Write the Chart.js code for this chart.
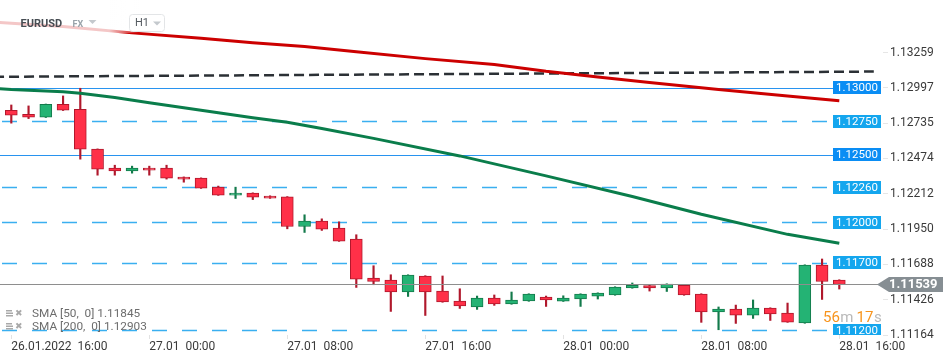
<!DOCTYPE html>
<html><head><meta charset="utf-8">
<script src="https://cdn.jsdelivr.net/npm/chart.js@4.4.1/dist/chart.umd.min.js"></script>
<style>html,body{margin:0;padding:0;background:#fff;overflow:hidden}canvas{display:block}</style>
</head><body>
<canvas id="c" width="950" height="361"></canvas>
<script>
// ---- data ----
const symbol = 'EURUSD', market = 'FX', interval = 'H1';
const xTickIdx = [0, 8, 16, 24, 32, 40, 48];
const xTickLabels = ['26.01.2022  16:00', '27.01  00:00', '27.01  08:00', '27.01  16:00', '28.01  00:00', '28.01  08:00', '28.01  16:00'];
const yTicks = [1.13259, 1.12997, 1.12735, 1.12474, 1.12212, 1.11950, 1.11688, 1.11426, 1.11164];

const opens  = [1.12832,1.12802,1.12780,1.12876,1.12839,1.12543,1.12402,1.12382,1.12402,1.12402,1.12335,1.12328,1.12261,1.12202,1.12217,1.12195,1.12189,1.11969,1.12009,1.11957,1.11876,1.11587,1.11572,1.11483,1.11602,1.11490,1.11416,1.11372,1.11438,1.11394,1.11416,1.11446,1.11415,1.11431,1.11453,1.11461,1.11513,1.11530,1.11513,1.11532,1.11468,1.11335,1.11357,1.11312,1.11364,1.11327,1.11253,1.11683,1.11572];
const highs  = [1.12871,1.12864,1.12878,1.12938,1.12995,1.12545,1.12424,1.12417,1.12417,1.12424,1.12337,1.12330,1.12269,1.12261,1.12219,1.12197,1.12191,1.12056,1.12026,1.12004,1.11908,1.11678,1.11611,1.11611,1.11604,1.11602,1.11507,1.11453,1.11461,1.11483,1.11470,1.11453,1.11455,1.11470,1.11477,1.11522,1.11550,1.11532,1.11544,1.11534,1.11470,1.11372,1.11386,1.11424,1.11366,1.11401,1.11685,1.11728,1.11574];
const lows   = [1.12736,1.12770,1.12778,1.12830,1.12469,1.12350,1.12350,1.12365,1.12350,1.12321,1.12298,1.12252,1.12200,1.12177,1.12169,1.12178,1.11952,1.11925,1.11940,1.11859,1.11517,1.11537,1.11339,1.11450,1.11309,1.11407,1.11361,1.11354,1.11384,1.11392,1.11414,1.11376,1.11413,1.11376,1.11431,1.11459,1.11511,1.11490,1.11487,1.11459,1.11258,1.11203,1.11250,1.11287,1.11272,1.11258,1.11251,1.11428,1.11505];
const closes = [1.12795,1.12780,1.12876,1.12832,1.12543,1.12395,1.12382,1.12402,1.12387,1.12328,1.12321,1.12254,1.12202,1.12217,1.12187,1.12180,1.11969,1.12009,1.11950,1.11861,1.11579,1.11561,1.11483,1.11609,1.11483,1.11409,1.11379,1.11438,1.11394,1.11424,1.11468,1.11424,1.11438,1.11468,1.11475,1.11520,1.11532,1.11513,1.11542,1.11461,1.11335,1.11357,1.11312,1.11364,1.11320,1.11260,1.11683,1.11561,1.11539];

const sma50Idx = [-1, 0, 3, 4, 6, 8, 10, 12, 14, 16, 18, 21, 26, 31, 36, 40, 45, 48];
const sma50Val = [1.12995,1.12985,1.12970,1.12958,1.12927,1.12888,1.12851,1.12814,1.12777,1.12743,1.12697,1.12623,1.12493,1.12345,1.12192,1.12060,1.11911,1.11845];
const sma200Idx = [-1, 0, 3, 7, 11, 14, 17, 20, 24, 28, 31, 34, 37, 41, 45, 48];
const sma200Val = [1.13487,1.13477,1.13454,1.13406,1.13366,1.13333,1.13305,1.13266,1.13215,1.13172,1.13121,1.13079,1.13037,1.12986,1.12937,1.12903];

const trendIdx = [-1, 50];
const trendVal = [1.13080, 1.13119];

const levelPrices = [1.13000, 1.12750, 1.12500, 1.12260, 1.12000, 1.11700, 1.11200];
const levelSolid  = [true, false, true, false, false, false, false];
const lastPrice = 1.11539;
const countdownParts = ['56', 'm', '17', 's'];
const legendRows = ['SMA [50,  0] 1.11845', 'SMA [200,  0] 1.12903'];

// ---- layout / style ----
const FONT = 'Roboto, "Open Sans", sans-serif';
const PLOT_RIGHT = 883, PLOT_BOTTOM = 335;
const X0 = 11.3, XSTEP = 17.25;
const UP_FILL = '#24b374', UP_LINE = '#137a4b';
const DN_FILL = '#ff3048', DN_LINE = '#b0182c';

const isUp = closes.map((c, i) => c >= opens[i]);
const bodyData = opens.map((o, i) => ({ x: i, y: [Math.min(o, closes[i]), Math.max(o, closes[i])] }));
const wickData = highs.map((h, i) => ({ x: i, y: [lows[i], h] }));

const overlay = {
  id: 'overlay',
  beforeDatasetsDraw(chart) {
    const { ctx, chartArea: ca } = chart; const ys = chart.scales.y;
    ctx.save();
    ctx.beginPath(); ctx.rect(ca.left, ca.top, ca.right - ca.left, ca.bottom - ca.top); ctx.clip();
    levelPrices.forEach((p, k) => {
      const y = Math.round(ys.getPixelForValue(p)) + 0.5;
      ctx.strokeStyle = levelSolid[k] ? '#2893ef' : '#3aaff0';
      ctx.lineWidth = levelSolid[k] ? 1 : 1.5;
      ctx.setLineDash(levelSolid[k] ? [] : [15, 15]);
      ctx.beginPath(); ctx.moveTo(ca.left - 28, y); ctx.lineTo(833, y); ctx.stroke();
    });
    ctx.restore();
  },
  afterDatasetsDraw(chart) {
    const { ctx, chartArea: ca } = chart; const ys = chart.scales.y;
    ctx.save();
    ctx.beginPath(); ctx.rect(ca.left, ca.top, ca.right - ca.left, ca.bottom - ca.top); ctx.clip();
    const yp = Math.round(ys.getPixelForValue(lastPrice)) + 0.5;
    ctx.strokeStyle = '#8e8e8e'; ctx.lineWidth = 1; ctx.setLineDash([]);
    ctx.beginPath(); ctx.moveTo(ca.left, yp); ctx.lineTo(878, yp); ctx.stroke();
    ctx.font = '11.5px ' + FONT; ctx.textAlign = 'center'; ctx.textBaseline = 'middle';
    levelPrices.forEach((p, k) => {
      const y = ys.getPixelForValue(p);
      ctx.fillStyle = levelSolid[k] ? '#0a8df4' : '#14a6ee';
      ctx.fillRect(833, Math.round(y - 6.5), 48, 13);
      ctx.fillStyle = '#fff';
      ctx.fillText(p.toFixed(5), 857, y + 0.5);
    });
    ctx.restore();

    ctx.save();
    const g = ctx.createLinearGradient(0, 0, 140, 0);
    g.addColorStop(0, 'rgba(255,255,255,0.78)');
    g.addColorStop(0.78, 'rgba(255,255,255,0.78)');
    g.addColorStop(1, 'rgba(255,255,255,0)');
    ctx.fillStyle = g; ctx.fillRect(0, 0, 140, 33);
    ctx.restore();
  },
  afterDraw(chart) {
    const { ctx } = chart; const ys = chart.scales.y;
    ctx.save();
    ctx.textBaseline = 'middle'; ctx.textAlign = 'left';
    ctx.fillStyle = '#474d53'; ctx.font = 'bold 11px ' + FONT;
    ctx.fillText(symbol, 20.5, 24);
    ctx.fillStyle = '#9aa3aa'; ctx.font = 'bold 9px ' + FONT;
    ctx.fillText(market, 72.5, 24.5);
    ctx.fillStyle = '#c4c9cd';
    ctx.beginPath(); ctx.moveTo(88.5, 20); ctx.lineTo(96.5, 20); ctx.lineTo(92.5, 24); ctx.closePath(); ctx.fill();
    ctx.strokeStyle = '#e3e5e7'; ctx.lineWidth = 1;
    ctx.beginPath(); ctx.roundRect(129.5, 14.5, 35, 17, 3); ctx.stroke();
    ctx.fillStyle = '#555b61'; ctx.font = '11px ' + FONT;
    ctx.fillText(interval, 135, 23.5);
    ctx.fillStyle = '#c4c9cd';
    ctx.beginPath(); ctx.moveTo(153, 21.5); ctx.lineTo(161, 21.5); ctx.lineTo(157, 25.5); ctx.closePath(); ctx.fill();

    const yp = ys.getPixelForValue(lastPrice);
    ctx.fillStyle = '#868e93';
    ctx.beginPath();
    ctx.moveTo(877, yp); ctx.lineTo(889, yp - 7.5); ctx.lineTo(943, yp - 7.5);
    ctx.lineTo(943, yp + 7.5); ctx.lineTo(889, yp + 7.5); ctx.closePath(); ctx.fill();
    ctx.fillStyle = '#fff'; ctx.font = 'bold 13px ' + FONT; ctx.textAlign = 'left';
    ctx.fillText(lastPrice.toFixed(5), 889, yp + 0.5);

    ctx.textBaseline = 'alphabetic'; ctx.font = '15px ' + FONT;
    let x = 823;
    countdownParts.forEach((t, k) => {
      ctx.fillStyle = k % 2 === 0 ? '#f7941d' : '#b9b9b9';
      ctx.fillText(t, x, 321.5);
      x += ctx.measureText(t).width + (k === 1 ? 3 : 0.5);
    });

    legendRows.forEach((t, k) => {
      const y = 314 + k * 13;
      ctx.textBaseline = 'middle';
      ctx.fillStyle = '#a9a9a9';
      ctx.fillRect(6, y - 4, 6, 1.5); ctx.fillRect(6, y - 1.5, 7, 1.5); ctx.fillRect(6, y + 1, 7, 1.5);
      ctx.font = 'bold 9px "DejaVu Sans"';
      ctx.fillText('\u2716', 15, y);
      ctx.fillStyle = '#6d6d6d'; ctx.font = '11.8px ' + FONT;
      ctx.fillText(t, 32, y + 0.5);
    });
    ctx.restore();
  }
};

new Chart(document.getElementById('c'), {
  type: 'bar',
  data: {
    datasets: [
      { type: 'line', label: 'SMA 200', data: sma200Idx.map((x, k) => ({ x, y: sma200Val[k] })), borderColor: '#cc0000', borderWidth: 3, pointRadius: 0, tension: 0, order: 0 },
      { type: 'line', label: 'SMA 50', data: sma50Idx.map((x, k) => ({ x, y: sma50Val[k] })), borderColor: '#0a7d4b', borderWidth: 3, pointRadius: 0, tension: 0, order: 0 },
      { type: 'line', label: 'Trend', data: trendIdx.map((x, k) => ({ x, y: trendVal[k] })), borderColor: '#2b3035', borderWidth: 2.5, borderDash: [10, 5], pointRadius: 0, tension: 0, order: 0 },
      { label: 'Bodies', data: bodyData, backgroundColor: isUp.map(u => u ? UP_FILL : DN_FILL), borderColor: isUp.map(u => u ? UP_LINE : DN_LINE), borderWidth: 1, borderSkipped: false, barThickness: 12, grouped: false, order: 1 },
      { label: 'Wicks', data: wickData, backgroundColor: isUp.map(u => u ? UP_LINE : DN_LINE), borderWidth: 0, barThickness: 1.5, grouped: false, order: 2 }
    ]
  },
  options: {
    responsive: false, animation: false, devicePixelRatio: 1,
    layout: { padding: 0 },
    plugins: { legend: { display: false }, tooltip: { enabled: false } },
    scales: {
      x: {
        type: 'linear', offset: false, min: -X0 / XSTEP, max: (PLOT_RIGHT - X0) / XSTEP,
        afterBuildTicks: s => { s.ticks = xTickIdx.map(v => ({ value: v })); },
        afterFit: s => { s.height = 361 - PLOT_BOTTOM; s.paddingLeft = 0; s.paddingRight = 0; s.paddingTop = 0; s.paddingBottom = 0; },
        ticks: { autoSkip: false, maxRotation: 0, align: 'start', padding: 1, color: '#3a3a3a', font: { family: FONT, size: 12 },
          callback: (v) => { const k = xTickIdx.indexOf(v); return k >= 0 ? xTickLabels[k] : ''; } },
        grid: { drawOnChartArea: false, drawTicks: true, tickLength: 4, tickColor: '#e2e2e2', offset: false },
        border: { display: false }
      },
      y: {
        position: 'right', min: 1.11164, max: 1.13650,
        afterBuildTicks: s => { s.ticks = yTicks.map(v => ({ value: v })); },
        afterFit: s => { s.width = 950 - PLOT_RIGHT; s.paddingTop = 0; s.paddingBottom = 0; s.paddingLeft = 0; s.paddingRight = 0; },
        ticks: { padding: 2, color: '#3a3a3a', font: { family: FONT, size: 12 }, callback: v => v.toFixed(5) },
        grid: { drawOnChartArea: false, drawTicks: true, tickLength: 5, tickColor: '#e6e6e6' },
        border: { display: false }
      }
    }
  },
  plugins: [overlay]
});
</script>
</body></html>
